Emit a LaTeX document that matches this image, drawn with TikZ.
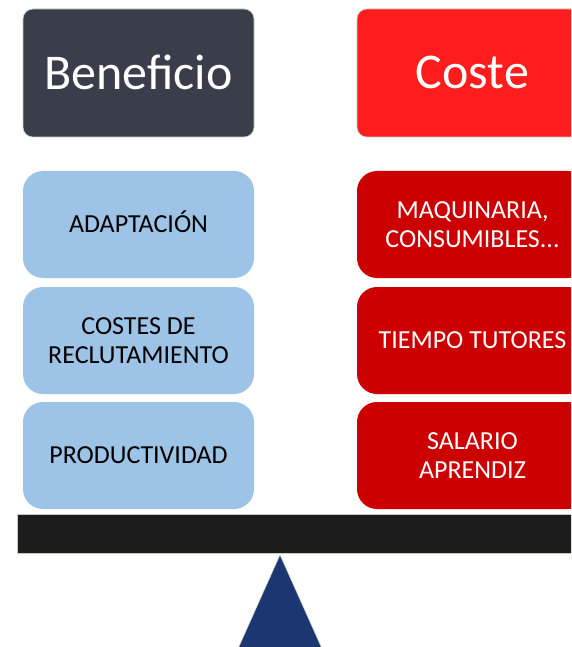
\documentclass[tikz,border=0pt]{standalone}
\usepackage{fontspec}
\setmainfont{Carlito}
\definecolor{hdark}{HTML}{393E4A}
\definecolor{hred}{HTML}{FF1C1C}
\definecolor{bblue}{HTML}{9DC3E6}
\definecolor{bred}{HTML}{CC0000}
\definecolor{barc}{HTML}{1C1C1C}
\definecolor{tri}{HTML}{1B3670}
\definecolor{edgec}{HTML}{C3CDBB}
\tikzset{
  header/.style={rectangle, rounded corners=10pt, minimum width=231pt, minimum height=128pt,
    draw=edgec, line width=0.6pt, text=white, font=\fontsize{50}{56}\selectfont, inner sep=0pt},
  itembox/.style={rectangle, rounded corners=20pt, minimum width=231pt, minimum height=107pt,
    inner sep=0pt, align=center, font=\fontsize{26}{29}\selectfont},
  benbox/.style={itembox, fill=bblue, text=black},
  cosbox/.style={itembox, fill=bred, text=white},
}
\begin{document}
\begin{tikzpicture}[x=1pt,y=-1pt]
\useasboundingbox (0,0) rectangle (571,647);
\clip (0,0) rectangle (571,647);
\node[header, fill=hdark] (ben) at (138.5,73) {\raisebox{2pt}{Beneficio}};
\node[header, fill=hred] (cos) at (472.5,73) {\raisebox{2pt}{Coste}};
\node[benbox] (b1) at (138.5,224.5) {ADAPTACI\smash{Ó}N};
\node[benbox] (b2) at (138.5,340.5) {COSTES DE\\RECLUTAMIENTO};
\node[benbox] (b3) at (138.5,455.5) {PRODUCTIVIDAD};
\node[cosbox] (c1) at (472.5,224.5) {MAQUINARIA,\\CONSUMIBLES...};
\node[cosbox] (c2) at (472.5,340.5) {TIEMPO TUTORES};
\node[cosbox] (c3) at (472.5,455.5) {SALARIO\\APRENDIZ};
\node[rectangle, fill=barc, draw=edgec, line width=0.6pt, minimum width=600pt, minimum height=39pt, inner sep=0pt, anchor=west] (bar) at (17,533.5) {};
\coordinate (apex) at (280,555);
\fill[tri, draw=edgec, line width=0.5pt] (apex) -- (233,660) -- (327,660) -- cycle;
\end{tikzpicture}
\end{document}
